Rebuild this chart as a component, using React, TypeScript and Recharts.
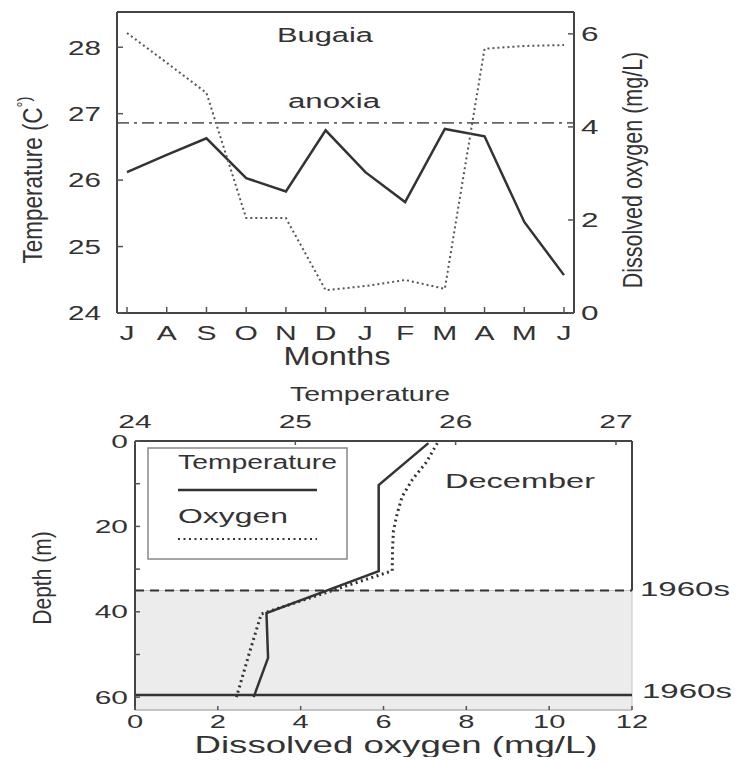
import React from "react";
import {
  LineChart,
  Line,
  ScatterChart,
  Scatter,
  XAxis,
  YAxis,
  ReferenceLine,
  ReferenceArea,
  Legend,
} from "recharts";

// --- top panel: monthly surface values at Bugaia ---
const monthKeys = ["Jul", "Aug", "Sep", "Oct", "Nov", "Dec", "Jan", "Feb", "Mar", "Apr", "May", "Jun"];
const monthLetters = ["J", "A", "S", "O", "N", "D", "J", "F", "M", "A", "M", "J"];
const surfaceTemp = [26.12, 26.38, 26.63, 26.03, 25.83, 26.75, 26.12, 25.67, 26.77, 26.66, 25.37, 24.57];
const surfaceOxygen = [6.02, 5.38, 4.73, 2.04, 2.04, 0.49, 0.58, 0.71, 0.52, 5.68, 5.74, 5.76];
const tempTicksTop = [24, 25, 26, 27, 28];
const oxTicksTop = [0, 2, 4, 6];
const anoxiaLevel = 26.86;

// --- bottom panel: December depth profiles ---
const tempDepths = [0.5, 10.3, 30.5, 40.3, 50.8, 60];
const tempProfileValues = [25.83, 25.52, 25.52, 24.82, 24.83, 24.74];
const oxDepths = [0.5, 5, 9, 13, 17, 21, 25, 30.4, 40.5, 50, 60];
const oxProfileValues = [7.3, 7.03, 6.7, 6.45, 6.33, 6.24, 6.22, 6.21, 3.05, 2.75, 2.45];
const depthTicks = [0, 10, 20, 30, 40, 50, 60];
const profileTempTicks = [24, 25, 26, 27];
const profileOxTicks = [0, 2, 4, 6, 8, 10, 12];
const depth1960sDashed = 35;
const depth1960sSolid = 59.5;
const legendOrder = ["Temperature", "Oxygen"];

const surfaceRows = monthKeys.map((m, i) => ({ month: m, temp: surfaceTemp[i], oxygen: surfaceOxygen[i] }));
const tempProfile = tempDepths.map((d, i) => ({ d, t: tempProfileValues[i] }));
const oxProfile = oxDepths.map((d, i) => ({ d, o: oxProfileValues[i] }));

const FONT = "'Liberation Sans', Arial, sans-serif";
const INK = "#333";

// text helper: either stretched to a width (w) or scaled horizontally (sx)
function WText({ x, y, w, sx, size, anchor = "middle", rotate, children }: any) {
  if (sx || rotate) {
    const tf = `translate(${x} ${y}) scale(${sx || 1} 1)${rotate ? ` rotate(${rotate})` : ""}`;
    return (
      <text
        transform={tf}
        fontSize={size}
        fontFamily={FONT}
        fill={INK}
        textAnchor={anchor}
        dominantBaseline="central"
      >
        {children}
      </text>
    );
  }
  return (
    <text
      x={x}
      y={y}
      fontSize={size}
      fontFamily={FONT}
      fill={INK}
      textAnchor={anchor}
      dominantBaseline="central"
      textLength={w}
      lengthAdjust={w ? "spacingAndGlyphs" : undefined}
    >
      {children}
    </text>
  );
}

type TickOpts = {
  side: "left" | "right" | "top" | "bottom";
  size: number;
  sx: number;
  gap: number;
  len?: number;
  label?: (v: any) => string;
};

function makeTick(o: TickOpts) {
  return (props: any) => {
    const { x, y, payload } = props;
    const text = o.label ? o.label(payload.value) : String(payload.value);
    const len = o.len ?? 6;
    let l = [x, y, x, y];
    let tx = x;
    let ty = y;
    let anchor = "middle";
    if (o.side === "left") {
      l = [x, y, x + len, y];
      tx = x - o.gap;
      anchor = "end";
    } else if (o.side === "right") {
      l = [x, y, x - len, y];
      tx = x + o.gap;
      anchor = "start";
    } else if (o.side === "bottom") {
      l = [x, y, x, y - len];
      ty = y + o.gap;
    } else {
      l = [x, y, x, y + len];
      ty = y - o.gap;
    }
    return (
      <g>
        <line x1={l[0]} y1={l[1]} x2={l[2]} y2={l[3]} stroke="#555" strokeWidth={1.5} />
        {text && (
          <WText x={tx} y={ty} sx={o.sx} size={o.size} anchor={anchor}>
            {text}
          </WText>
        )}
      </g>
    );
  };
}

const monthTick = makeTick({
  side: "bottom",
  size: 21,
  sx: 1.43,
  gap: 19.5,
  label: (v) => monthLetters[monthKeys.indexOf(v)],
});
const tempLeftTick = makeTick({ side: "left", size: 21, sx: 1.41, gap: 16 });
const oxRightTick = makeTick({ side: "right", size: 21, sx: 1.5, gap: 7 });
const depthTick = makeTick({
  side: "left",
  size: 18.5,
  sx: 1.62,
  gap: 7,
  len: 5,
  label: (v) => (v % 20 === 0 ? String(v) : ""),
});
const profileTempTick = makeTick({ side: "top", size: 18.5, sx: 1.62, gap: 20, len: 4 });
const profileOxTick = makeTick({ side: "bottom", size: 17.5, sx: 1.66, gap: 12, len: 4 });

const noDot = () => <g />;

const legendDash: Record<string, string | undefined> = { Temperature: undefined, Oxygen: "2 3.5" };
const legendTextW: Record<string, number> = { Temperature: 159, Oxygen: 110 };

function ProfileLegend({ payload }: any) {
  const items = [...(payload || [])].sort(
    (a: any, b: any) => legendOrder.indexOf(a.value) - legendOrder.indexOf(b.value)
  );
  return (
    <svg width={201} height={113} style={{ display: "block" }}>
      <rect x={1} y={1} width={199} height={111} fill="#fff" stroke="#888" strokeWidth={1.5} />
      {items.map((it: any, i: number) => (
        <g key={it.value}>
          <WText x={31} y={14.5 + i * 54} w={legendTextW[it.value]} size={19.5} anchor="start">
            {it.value}
          </WText>
          <line
            x1={31}
            x2={170}
            y1={43 + i * 49}
            y2={43 + i * 49}
            stroke={INK}
            strokeWidth={i === 0 ? 2.5 : 2}
            strokeDasharray={legendDash[it.value]}
          />
        </g>
      ))}
    </svg>
  );
}

function SurfacePanel() {
  return (
    <div style={{ position: "absolute", left: 0, top: 0, width: 739, height: 380 }}>
      <LineChart width={739} height={380} data={surfaceRows} margin={{ top: 11, right: 105, bottom: 37, left: 57 }}>
        <XAxis
          dataKey="month"
          padding={{ left: 10, right: 10 }}
          height={30}
          interval={0}
          tickSize={0}
          tickMargin={0}
          tickLine={false}
          axisLine={{ stroke: "#444", strokeWidth: 2 }}
          tick={monthTick}
        />
        <XAxis
          xAxisId="top"
          dataKey="month"
          orientation="top"
          height={1}
          tick={false}
          tickLine={false}
          axisLine={{ stroke: "#444", strokeWidth: 2 }}
        />
        <YAxis
          yAxisId="t"
          type="number"
          domain={[24, 28.53]}
          ticks={tempTicksTop}
          width={60}
          tickSize={0}
          tickMargin={0}
          tickLine={false}
          axisLine={{ stroke: "#444", strokeWidth: 2 }}
          tick={tempLeftTick}
        />
        <YAxis
          yAxisId="o"
          orientation="right"
          type="number"
          domain={[0, 6.47]}
          ticks={oxTicksTop}
          width={60}
          tickSize={0}
          tickMargin={0}
          tickLine={false}
          axisLine={{ stroke: "#444", strokeWidth: 2 }}
          tick={oxRightTick}
        />
        <ReferenceLine yAxisId="t" y={anoxiaLevel} stroke="#666" strokeWidth={1.8} strokeDasharray="12 5 3 5" />
        <Line
          yAxisId="t"
          dataKey="temp"
          stroke={INK}
          strokeWidth={2.5}
          dot={false}
          isAnimationActive={false}
        />
        <Line
          yAxisId="o"
          dataKey="oxygen"
          stroke="#555"
          strokeWidth={2}
          strokeDasharray="2 3"
          dot={false}
          isAnimationActive={false}
        />
      </LineChart>
      <svg width={739} height={380} style={{ position: "absolute", left: 0, top: 0, pointerEvents: "none" }}>
        <WText x={325} y={35} w={96} size={20}>Bugaia</WText>
        <WText x={334} y={101} w={92} size={19.5}>anoxia</WText>
        <WText x={337} y={356} w={107} size={25}>Months</WText>
        <text
          transform="translate(32 180) scale(1.25 1) rotate(-90)"
          fontSize={22.5}
          fontFamily={FONT}
          fill={INK}
          textAnchor="middle"
          dominantBaseline="central"
        >
          Temperature (C
          <tspan fontSize={15} dy={-7}>
            °)
          </tspan>
        </text>
        <WText x={633} y={170} sx={1.25} size={21.5} rotate={-90}>
          Dissolved oxygen (mg/L)
        </WText>
      </svg>
    </div>
  );
}

function ProfilePanel() {
  return (
    <div style={{ position: "absolute", left: 0, top: 380, width: 739, height: 385 }}>
      <ScatterChart width={739} height={385} margin={{ top: 31, right: 107, bottom: 25, left: 75 }}>
        <XAxis
          xAxisId="temp"
          orientation="top"
          type="number"
          dataKey="t"
          domain={[24, 27.1]}
          ticks={profileTempTicks}
          height={30}
          tickSize={0}
          tickMargin={0}
          tickLine={false}
          axisLine={{ stroke: "#444", strokeWidth: 2 }}
          tick={profileTempTick}
        />
        <XAxis
          xAxisId="ox"
          orientation="bottom"
          type="number"
          dataKey="o"
          domain={[0, 12]}
          ticks={profileOxTicks}
          height={30}
          tickSize={0}
          tickMargin={0}
          tickLine={false}
          axisLine={{ stroke: "#bbb", strokeWidth: 1.5 }}
          tick={profileOxTick}
        />
        <YAxis
          type="number"
          dataKey="d"
          domain={[0, 63]}
          reversed
          ticks={depthTicks}
          width={60}
          tickSize={0}
          tickMargin={0}
          tickLine={false}
          axisLine={{ stroke: "#444", strokeWidth: 2 }}
          tick={depthTick}
        />
        <ReferenceArea xAxisId="ox" y1={depth1960sDashed} y2={63} fill="#ececec" fillOpacity={1} stroke="#c4c4c4" />
        <ReferenceLine
          xAxisId="ox"
          segment={[
            { x: 12, y: 0 },
            { x: 12, y: depth1960sDashed },
          ]}
          stroke="#444"
          strokeWidth={2}
        />
        <ReferenceLine xAxisId="ox" y={depth1960sDashed} stroke={INK} strokeWidth={2} strokeDasharray="9 6" />
        <ReferenceLine xAxisId="ox" y={depth1960sSolid} stroke={INK} strokeWidth={2.5} />
        <Scatter
          name="Temperature"
          data={tempProfile}
          xAxisId="temp"
          line={{ stroke: INK, strokeWidth: 2.5 }}
          shape={noDot}
          legendType="line"
          isAnimationActive={false}
        />
        <Scatter
          name="Oxygen"
          data={oxProfile}
          xAxisId="ox"
          line={{ stroke: INK, strokeWidth: 3, strokeDasharray: "2 3.5" }}
          shape={noDot}
          legendType="line"
          isAnimationActive={false}
        />
        <Legend
          layout="vertical"
          align="center"
          verticalAlign="middle"
          wrapperStyle={{ left: 147, top: 67, width: 201, height: 113 }}
          content={ProfileLegend}
        />
      </ScatterChart>
      <svg width={739} height={385} style={{ position: "absolute", left: 0, top: 0, pointerEvents: "none" }}>
        <WText x={370} y={14} w={160} size={19.5}>Temperature</WText>
        <WText x={520} y={100} w={150} size={21}>December</WText>
        <WText x={640} y={208} w={90} size={21} anchor="start">1960s</WText>
        <WText x={642} y={310} w={90} size={21} anchor="start">1960s</WText>
        <WText x={396} y={364} w={403} size={24.5}>Dissolved oxygen (mg/L)</WText>
        <WText x={41.5} y={198} sx={1.25} size={21} rotate={-90}>
          Depth (m)
        </WText>
      </svg>
    </div>
  );
}

export default function App() {
  return (
    <div style={{ position: "relative", width: 739, height: 765, margin: -8, background: "#fff" }}>
      <SurfacePanel />
      <ProfilePanel />
    </div>
  );
}
